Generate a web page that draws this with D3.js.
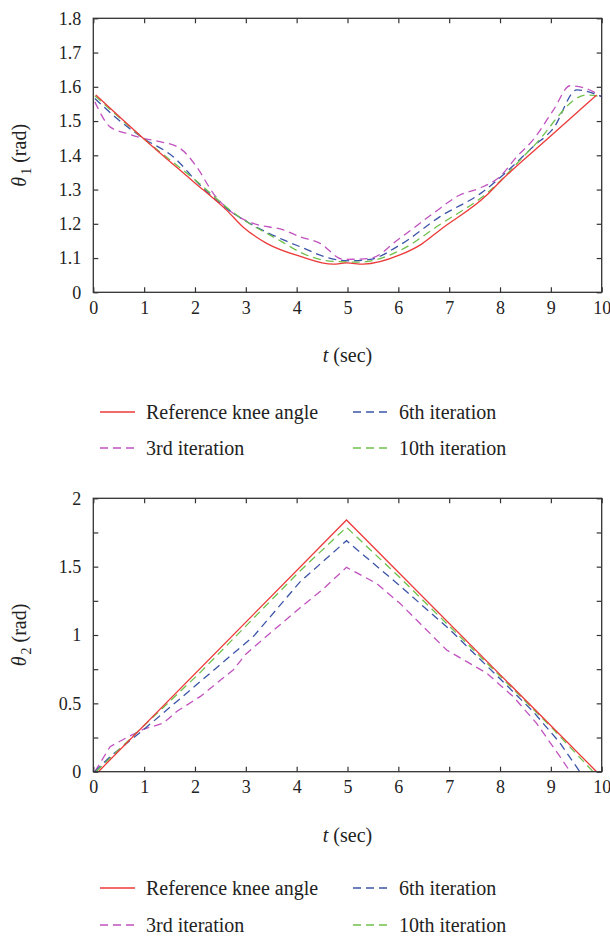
<!DOCTYPE html>
<html>
<head>
<meta charset="utf-8">
<script src="https://cdn.jsdelivr.net/npm/d3@7"></script>
<style>
  html, body { margin: 0; padding: 0; background: #fff; }
  svg { display: block; }
  svg text { font-family: "Liberation Serif", "DejaVu Serif", serif !important; }
</style>
</head>
<body>
<div id="chart"></div>
<script>
// --- data (t in sec, angle in rad) ---
const xTicks = [0, 1, 2, 3, 4, 5, 6, 7, 8, 9, 10];

// panel 1: knee angle theta_1 (axis starts at 1.0, shown as "0")
const theta1Ticks = [1.0, 1.1, 1.2, 1.3, 1.4, 1.5, 1.6, 1.7, 1.8];
const theta1TickLabels = ['0', '1.1', '1.2', '1.3', '1.4', '1.5', '1.6', '1.7', '1.8'];
const theta1Reference = [[0.05, 1.576], [0.98, 1.45], [1.97, 1.323], [2.62, 1.24], [2.95, 1.19], [3.41, 1.143], [4.07, 1.105], [4.72, 1.082], [4.98, 1.086], [5.31, 1.082], [6.03, 1.109], [6.45, 1.14], [6.82, 1.182], [7.74, 1.284], [8.0, 1.323], [8.98, 1.454], [9.9, 1.576]];
const theta1Iter3 = [[0.03, 1.556], [0.33, 1.483], [0.66, 1.464], [0.98, 1.45], [1.31, 1.44], [1.71, 1.42], [2.03, 1.367], [2.36, 1.289], [2.75, 1.231], [3.15, 1.201], [3.74, 1.182], [4.07, 1.162], [4.46, 1.143], [4.92, 1.096], [5.44, 1.099], [6.03, 1.158], [6.69, 1.231], [7.21, 1.284], [7.6, 1.304], [8.0, 1.338], [8.33, 1.396], [8.65, 1.445], [9.05, 1.532], [9.38, 1.603], [9.83, 1.586], [10, 1.571]];
const theta1Iter6 = [[0.03, 1.566], [0.46, 1.508], [0.98, 1.45], [1.57, 1.396], [2.1, 1.313], [2.62, 1.245], [3.08, 1.201], [3.74, 1.153], [4.07, 1.133], [4.66, 1.099], [5.05, 1.092], [5.44, 1.096], [6.03, 1.138], [6.82, 1.221], [7.67, 1.294], [8.13, 1.352], [8.65, 1.425], [9.05, 1.479], [9.51, 1.591], [10, 1.571]];
const theta1Iter10 = [[0.03, 1.574], [0.98, 1.45], [2.1, 1.316], [2.75, 1.233], [3.74, 1.145], [4.07, 1.117], [4.72, 1.09], [5.25, 1.088], [6.03, 1.122], [6.82, 1.198], [7.74, 1.289], [8.65, 1.425], [9.7, 1.576], [10, 1.571]];

// panel 2: theta_2
const theta2Ticks = [0, 0.25, 0.5, 0.75, 1, 1.25, 1.5, 1.75, 2];
const theta2TickLabels = ['0', '', '0.5', '', '1', '', '1.5', '', '2'];
const theta2Reference = [[0.1, 0], [4.98, 1.841], [9.9, 0]];
const theta2Iter3 = [[0.03, 0], [0.33, 0.183], [0.66, 0.25], [0.98, 0.31], [1.38, 0.355], [1.64, 0.44], [2.1, 0.549], [2.75, 0.744], [3.0, 0.86], [3.5, 1.02], [4.07, 1.2], [4.5, 1.33], [4.98, 1.495], [5.57, 1.378], [6.03, 1.232], [6.95, 0.89], [7.74, 0.72], [8.26, 0.549], [8.72, 0.354], [9.18, 0.11], [9.38, 0]];
const theta2Iter6 = [[0.03, 0], [0.33, 0.11], [0.98, 0.305], [2.1, 0.658], [3.15, 0.99], [4.07, 1.39], [4.98, 1.69], [6.03, 1.36], [7.01, 1.04], [8.0, 0.68], [8.65, 0.44], [9.18, 0.21], [9.57, 0]];
const theta2Iter10 = [[0.05, 0], [0.98, 0.33], [2.1, 0.725], [4.07, 1.47], [4.98, 1.788], [6.03, 1.42], [8.0, 0.70], [9.05, 0.31], [9.83, 0]];

const SERIES_LABELS = ['Reference knee angle', '3rd iteration', '6th iteration', '10th iteration'];
const SERIES_COLORS = ['#ec3a3a', '#c152bf', '#3b55a8', '#6fc04b'];

const SERIF = '"Liberation Serif", "DejaVu Serif", serif';
const FONT_TICK = 18;
const FONT_LABEL = 20;
const AXIS_COLOR = '#333';
const DASH = '8,5';

const svg = d3.select('#chart').append('svg')
  .attr('width', 610)
  .attr('height', 936)
  .attr('font-family', SERIF);

function drawPanel(cfg) {
  const { box, yDomain, yTicks, yLabels, series, curve, ySub, legendY } = cfg;
  const x = d3.scaleLinear().domain([0, 10]).range([box.left, box.right]);
  const y = d3.scaleLinear().domain(yDomain).range([box.bottom, box.top]);
  const g = svg.append('g');

  // series, reference drawn last so it sits on top
  const line = d3.line().x(d => x(d[0])).y(d => y(d[1])).curve(curve);
  [1, 2, 3, 0].forEach(i => {
    g.append('path')
      .attr('d', line(series[i]))
      .attr('fill', 'none')
      .attr('stroke', SERIES_COLORS[i])
      .attr('stroke-width', 1.3)
      .attr('stroke-dasharray', i === 0 ? null : DASH);
  });

  // inward ticks on all four sides
  const tickLen = 5;
  const axes = [
    d3.axisBottom(x).tickValues(xTicks).tickSize(-tickLen).tickPadding(9).tickFormat(d3.format('d')),
    d3.axisTop(x).tickValues(xTicks).tickSize(-tickLen).tickFormat(''),
    d3.axisLeft(y).tickValues(yTicks).tickSize(-tickLen).tickPadding(12).tickFormat((d, i) => yLabels[i]),
    d3.axisRight(y).tickValues(yTicks).tickSize(-tickLen).tickFormat('')
  ];
  const offsets = [
    `translate(0,${box.bottom})`, `translate(0,${box.top})`,
    `translate(${box.left},0)`, `translate(${box.right},0)`
  ];
  axes.forEach((ax, i) => {
    const a = g.append('g').attr('transform', offsets[i]).call(ax);
    a.attr('font-family', SERIF);
    a.select('.domain').remove();
    a.selectAll('line').attr('stroke', AXIS_COLOR).attr('stroke-width', 1.2);
    a.selectAll('text')
      .attr('fill', '#222')
      .style('font-size', FONT_TICK + 'px');
  });

  g.append('rect')
    .attr('x', box.left).attr('y', box.top)
    .attr('width', box.right - box.left).attr('height', box.bottom - box.top)
    .attr('fill', 'none').attr('stroke', AXIS_COLOR).attr('stroke-width', 1.3);

  // x label
  const xl = g.append('text')
    .attr('x', (box.left + box.right) / 2)
    .attr('y', box.bottom + 70)
    .attr('text-anchor', 'middle')
    .attr('fill', '#222')
    .style('font-size', FONT_LABEL + 'px');
  xl.append('tspan').attr('font-style', 'italic').text('t');
  xl.append('tspan').text(' (sec)');

  // y label
  const yl = g.append('text')
    .attr('transform', `translate(26,${(box.top + box.bottom) / 2}) rotate(-90)`)
    .attr('text-anchor', 'middle')
    .attr('fill', '#222')
    .style('font-size', FONT_LABEL + 'px');
  yl.append('tspan').attr('font-style', 'italic').text('θ');
  yl.append('tspan').attr('dx', 2).attr('dy', 5).style('font-size', '14px').text(ySub);
  yl.append('tspan').attr('dy', -5).text(' (rad)');

  // legend: two columns, two rows
  const slots = [
    { i: 0, col: 0, row: 0 }, { i: 2, col: 1, row: 0 },
    { i: 1, col: 0, row: 1 }, { i: 3, col: 1, row: 1 }
  ];
  const colX = [100, 353];
  slots.forEach(s => {
    const ly = legendY[s.row];
    g.append('line')
      .attr('x1', colX[s.col]).attr('x2', colX[s.col] + 35)
      .attr('y1', ly).attr('y2', ly)
      .attr('stroke', SERIES_COLORS[s.i])
      .attr('stroke-width', 1.3)
      .attr('stroke-dasharray', s.i === 0 ? null : DASH);
    g.append('text')
      .attr('x', colX[s.col] + 46)
      .attr('y', ly)
      .attr('dy', '0.33em')
      .attr('fill', '#222')
      .style('font-size', FONT_LABEL + 'px')
      .text(SERIES_LABELS[s.i]);
  });
}

drawPanel({
  box: { left: 93.3, right: 601.7, top: 18.3, bottom: 292.3 },
  yDomain: [1.0, 1.8],
  yTicks: theta1Ticks,
  yLabels: theta1TickLabels,
  series: [theta1Reference, theta1Iter3, theta1Iter6, theta1Iter10],
  curve: d3.curveMonotoneX,
  ySub: '1',
  legendY: [412, 448]
});

drawPanel({
  box: { left: 93.3, right: 601.7, top: 498.3, bottom: 771.7 },
  yDomain: [0, 2],
  yTicks: theta2Ticks,
  yLabels: theta2TickLabels,
  series: [theta2Reference, theta2Iter3, theta2Iter6, theta2Iter10],
  curve: d3.curveLinear,
  ySub: '2',
  legendY: [888, 925]
});
</script>
</body>
</html>
